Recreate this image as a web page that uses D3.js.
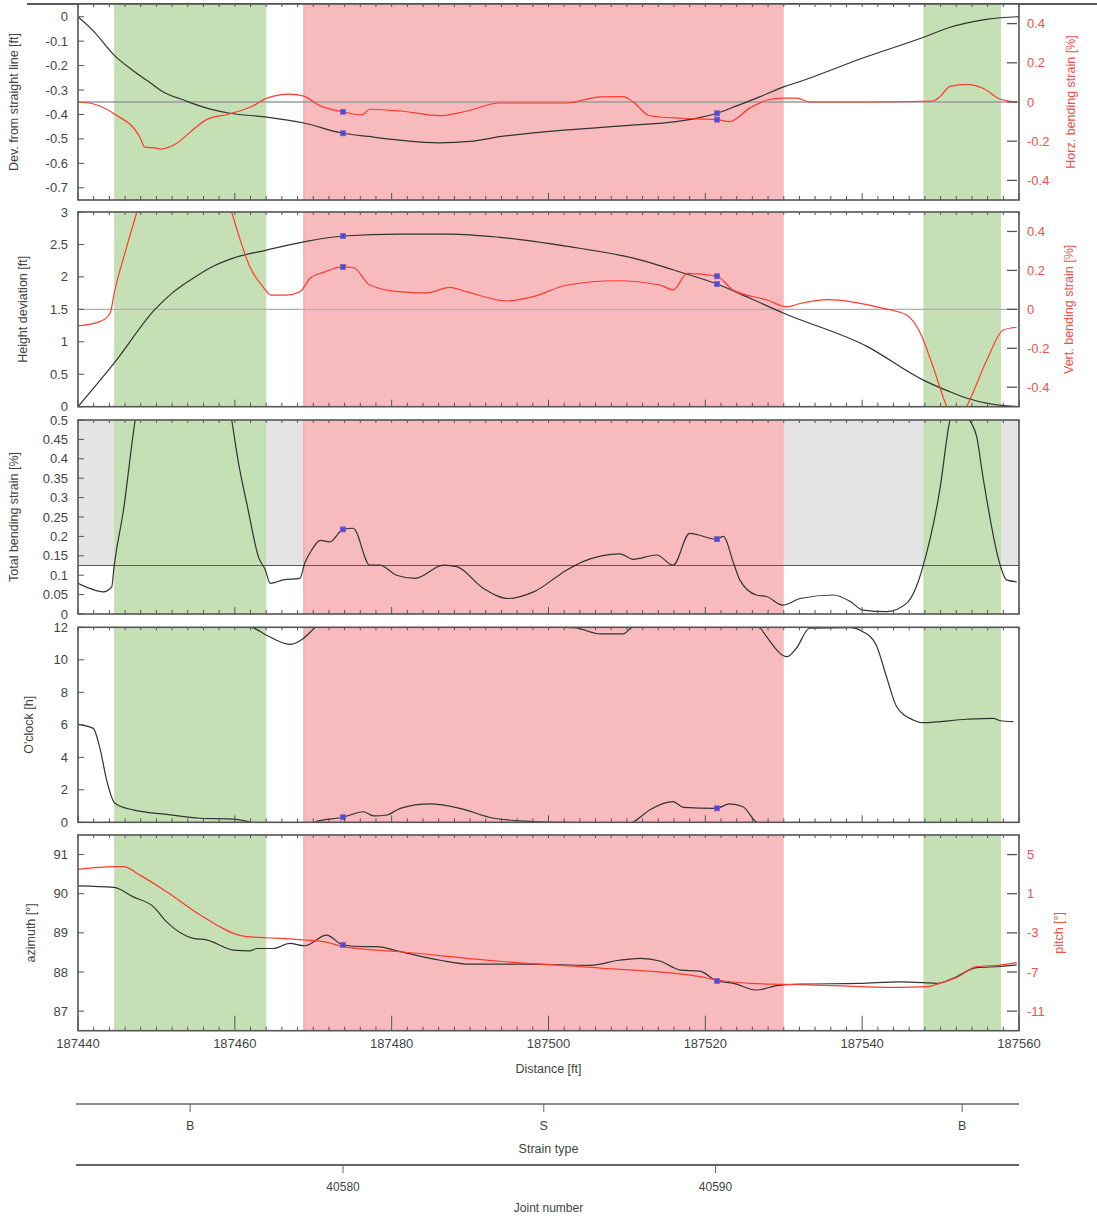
<!DOCTYPE html>
<html><head><meta charset="utf-8">
<script src="https://cdn.jsdelivr.net/npm/d3@7"></script>
<style>
body{margin:0;background:#fff}
svg{display:block}
text{font-family:"Liberation Sans",Arial,sans-serif}
</style>
</head><body>
<svg id="c" width="1097" height="1218"></svg>
<script>
// ---------------- DATA ----------------
// distances are given as offsets [ft] from 187440
const distStart = 187440, distEnd = 187560;
const distTicks = [187440,187460,187480,187500,187520,187540,187560];
const greenBands = [[4.6,24.0],[107.8,117.7]];
const pinkBands = [[28.8,90.0]];

// Panel 1: deviation from straight line [ft] (left) and horizontal bending strain [%] (right)
const devStraight = [[0,0],[2,-0.06],[4.6,-0.157],[7,-0.22],[9.2,-0.27],[11,-0.31],[13.4,-0.34],[16,-0.37],[19.4,-0.395],[23.8,-0.41],[28.8,-0.435],[33.8,-0.477],[37,-0.49],[41,-0.505],[46,-0.516],[50,-0.51],[54,-0.49],[62,-0.464],[71,-0.443],[76,-0.43],[79,-0.415],[81.5,-0.395],[84,-0.365],[87,-0.327],[90,-0.287],[92,-0.266],[100,-0.17],[108,-0.082],[111,-0.045],[113.4,-0.025],[116,-0.01],[120,0.0]];
const horzStrain = [[0,0],[2,-0.01],[4.6,-0.06],[7.9,-0.18],[8.5,-0.23],[10,-0.235],[10.5,-0.24],[12.6,-0.21],[14.7,-0.14],[16.4,-0.09],[19.4,-0.06],[22.3,-0.02],[24.1,0.02],[27,0.04],[28.8,0.03],[30.9,-0.02],[33.8,-0.05],[36.2,-0.066],[37.2,-0.037],[41.1,-0.046],[46.2,-0.07],[49.6,-0.046],[53.8,-0.005],[62.4,-0.005],[66.6,0.026],[69.5,0.027],[70.8,0],[72.9,-0.07],[77.1,-0.083],[81.5,-0.09],[83.1,-0.1],[85.7,-0.03],[87.9,0.01],[89.9,0.02],[91.7,0.02],[93.3,0],[101,0],[109,0.005],[110,0.03],[111.2,0.08],[113.4,0.09],[115.4,0.07],[117.6,0.014],[119.7,0]];
const devMarkers = [-0.477,-0.395];
const horzMarkers = [-0.05,-0.09];

// Panel 2: height deviation [ft] (left) and vertical bending strain [%] (right)
const heightDev = [[0,0],[4.6,0.67],[9.9,1.51],[12,1.75],[14.3,1.95],[17,2.15],[19.8,2.29],[23.9,2.41],[28.8,2.54],[33.8,2.63],[41.1,2.66],[47.5,2.66],[53.8,2.61],[62.4,2.47],[70.8,2.29],[77.2,2.06],[81.5,1.89],[85.7,1.67],[90,1.44],[100.6,0.93],[107.8,0.41],[111,0.24],[113.4,0.13],[116,0.05],[119.7,0]];
const vertStrain = [[0,-0.085],[2.8,-0.063],[4.1,-0.02],[4.6,0.08],[6.2,0.32],[7.5,0.5],[8.5,0.65],[18.5,0.65],[19.6,0.5],[20.7,0.355],[21.9,0.22],[23.6,0.116],[24.6,0.073],[26.6,0.073],[28.3,0.09],[29.6,0.16],[31.3,0.19],[33.8,0.218],[35.1,0.215],[37.2,0.125],[41.1,0.09],[44.5,0.085],[47.4,0.113],[49.6,0.09],[54.7,0.043],[58,0.065],[62.4,0.125],[68.7,0.147],[74.2,0.125],[75.9,0.1],[77.7,0.185],[81.5,0.17],[83.5,0.1],[87.9,0.048],[90.4,0.013],[92.1,0.03],[95.5,0.05],[102.7,0.005],[105.7,-0.03],[107.4,-0.12],[109,-0.29],[110.8,-0.5],[112,-0.58],[113.3,-0.5],[115.9,-0.26],[118,-0.106],[119.7,-0.092]];
const heightMarkers = [2.63,1.89];
const vertMarkers = [0.218,0.17];

// Panel 3: total bending strain [%]
const strainThreshold = 0.125;
const totalStrain = [[0,0.079],[1.5,0.066],[3.2,0.057],[4.3,0.07],[4.6,0.122],[5.8,0.268],[7.3,0.5],[8.5,0.62],[18.5,0.62],[19.6,0.5],[20.4,0.397],[21.7,0.268],[23,0.148],[23.9,0.113],[24.5,0.079],[26.2,0.088],[28.3,0.092],[28.9,0.13],[29.8,0.165],[30.9,0.19],[32.1,0.186],[33.8,0.218],[35.1,0.221],[37.2,0.126],[38.5,0.126],[40.6,0.1],[43,0.092],[46.6,0.126],[48.3,0.122],[51.7,0.066],[54.9,0.04],[58.1,0.057],[62.3,0.113],[64.4,0.135],[69.1,0.155],[70.8,0.141],[73.8,0.152],[75.9,0.126],[78,0.208],[81.4,0.193],[82.3,0.2],[83.6,0.131],[84.4,0.088],[86.5,0.049],[87.8,0.045],[89.9,0.023],[92.1,0.04],[96.3,0.049],[98.5,0.032],[100.1,0.01],[103.1,0.006],[105.7,0.028],[106.9,0.07],[107.8,0.126],[109.9,0.32],[111.2,0.5],[112.4,0.55],[113.7,0.5],[114.6,0.457],[115.4,0.354],[117.6,0.126],[118.4,0.088],[119.7,0.083]];
const totalMarkers = [0.218,0.193];

// Panel 4: o'clock position [h] (0..12, wraps around)
const oclock = [[0,6.03],[1.95,5.78],[2.8,4.55],[3.7,2.5],[4.7,1.17],[7.05,0.76],[11.3,0.49],[15.6,0.25],[19.8,0.2],[21.9,0.02],[22.4,11.95],[24.1,11.5],[27,10.95],[28.7,11.3],[30.2,11.97],[30.4,0.05],[33.8,0.31],[36.4,0.65],[37.7,0.39],[39.4,0.45],[41.1,0.86],[44.9,1.13],[48.7,0.86],[53,0.25],[58.1,0.04],[60.6,0.0],[63.2,11.98],[66.6,11.59],[69.5,11.59],[70.6,11.98],[70.8,0.02],[72.9,0.76],[75.9,1.27],[77.2,0.92],[81.4,0.86],[83.1,1.13],[84.8,0.96],[86.5,0.02],[87,11.94],[87.8,11.42],[90.4,10.19],[91.6,10.71],[93.3,11.94],[98.4,11.98],[100.1,11.73],[101.8,10.9],[103.1,8.96],[104.4,7.11],[106.5,6.3],[107.8,6.13],[113.3,6.34],[116.7,6.4],[117.6,6.25],[119.3,6.19]];
const oclockMarkers = [0.31,0.86];

// Panel 5: azimuth [deg] (left) and pitch [deg] (right)
const azimuth = [[0,90.2],[4.6,90.16],[7.05,89.92],[9.6,89.67],[11.3,89.28],[14.7,88.86],[16.4,88.82],[19.8,88.56],[21.9,88.54],[22.8,88.6],[24.9,88.6],[27,88.73],[28.9,88.67],[31.7,88.94],[33.8,88.69],[36.4,88.65],[38.1,88.65],[41.1,88.52],[46.2,88.3],[50,88.2],[57.6,88.2],[65.3,88.17],[69,88.3],[71.7,88.35],[74.2,88.28],[76.8,88.05],[79.3,88.02],[81.5,87.77],[83.6,87.71],[86.5,87.54],[89.1,87.65],[92.1,87.69],[99.7,87.71],[104.8,87.75],[107.8,87.73],[109.5,87.71],[111.6,87.84],[114.6,88.11],[117.6,88.14],[119.7,88.18]];
const pitch = [[0,3.49],[4.6,3.76],[5.8,3.76],[7.9,2.9],[11.3,1.2],[15.6,-1.18],[17.7,-2.2],[19.8,-3.05],[21.5,-3.39],[24.1,-3.5],[28.9,-3.73],[31.3,-3.9],[33.8,-4.4],[41.1,-4.93],[53.8,-5.9],[66.6,-6.6],[79.3,-7.48],[81.5,-7.82],[85.7,-8.16],[90.1,-8.26],[96.3,-8.4],[104.8,-8.57],[108.2,-8.5],[109.9,-8.16],[112,-7.58],[114.6,-6.46],[117.6,-6.29],[119.7,-6.05]];
const azimuthMarkers = [88.69,87.77];
const markerDist = [33.8,81.5];

// bottom axes
const strainTypeLabels = ["B","S","B"];
const strainTypePos = [187454.3,187499.4,187552.75];
const jointNumbers = [40580,40590];
const jointPos = [187473.8,187521.3];

// ---------------- DRAWING ----------------
const svg = d3.select("#c");
const L = 78, R = 1019;
const x = d3.scaleLinear().domain([distStart,distEnd]).range([L,R]);
const xo = d => x(distStart + d);
const GREEN = "#c6e0b5", PINK = "#f7bbbe", GREY = "#e4e4e4";
const BLACK = "#333", RED = "#ff3a2e", BORDER = "#555", TXT = "#444", RTXT = "#f2504a";

svg.append("line").attr("x1",27).attr("x2",1097).attr("y1",4).attr("y2",4)
  .attr("stroke","#222").attr("stroke-width",1.5);

function makePanel(id, top, bot){
  const g = svg.append("g");
  g.append("rect").attr("x",L).attr("y",top).attr("width",R-L).attr("height",bot-top).attr("fill","#fff");
  svg.append("clipPath").attr("id","clip"+id).append("rect")
    .attr("x",L).attr("y",top).attr("width",R-L).attr("height",bot-top);
  return g;
}
function bands(g, top, bot){
  greenBands.forEach(b=>g.append("rect").attr("x",xo(b[0])).attr("y",top)
    .attr("width",xo(b[1])-xo(b[0])).attr("height",bot-top).attr("fill",GREEN));
  pinkBands.forEach(b=>{
    g.append("rect").attr("x",xo(b[0])).attr("y",top)
      .attr("width",xo(b[1])-xo(b[0])).attr("height",bot-top).attr("fill",PINK);
    g.append("line").attr("x1",xo(b[0])).attr("x2",xo(b[0])).attr("y1",top).attr("y2",bot)
      .attr("stroke","#ee9a9c").attr("stroke-width",1);
  });
}
function series(g, id, data, y, color, w){
  const line = d3.line().x(d=>xo(d[0])).y(d=>y(d[1])).curve(d3.curveMonotoneX);
  g.append("path").attr("d",line(data)).attr("fill","none").attr("stroke",color)
    .attr("stroke-width",w||1.2).attr("clip-path","url(#clip"+id+")");
}
function markers(g, vals, y){
  vals.forEach((v,i)=>g.append("rect").attr("x",xo(markerDist[i])-2.5).attr("y",y(v)-2.5)
    .attr("width",5).attr("height",5).attr("fill","#4b4bd6").attr("stroke","#8060c8").attr("stroke-width",0.8));
}
function frame(g, top, bot, majorLen){
  for(let d=distStart; d<=distEnd; d+=2){
    const major = (d-distStart)%20===0;
    const xx = x(d);
    g.append("line").attr("x1",xx).attr("x2",xx).attr("y1",bot).attr("y2",bot-(major?majorLen:4))
      .attr("stroke",BORDER).attr("stroke-width",1);
    g.append("line").attr("x1",xx).attr("x2",xx).attr("y1",top).attr("y2",top+3)
      .attr("stroke",BORDER).attr("stroke-width",1);
  }
  g.append("rect").attr("x",L).attr("y",top).attr("width",R-L).attr("height",bot-top)
    .attr("fill","none").attr("stroke",BORDER).attr("stroke-width",1.6);
}
function leftAxis(g, y, ticks, fmt, title, titleX, top, bot){
  ticks.forEach(t=>{
    g.append("line").attr("x1",L).attr("x2",L+6).attr("y1",y(t)).attr("y2",y(t)).attr("stroke",BORDER);
    g.append("text").attr("x",L-10).attr("y",y(t)).attr("dy","0.35em").attr("text-anchor","end")
      .attr("font-size",13).attr("fill",TXT).text(fmt(t));
  });
  g.append("text").attr("transform",`translate(${titleX},${(top+bot)/2}) rotate(-90)`)
    .attr("text-anchor","middle").attr("font-size",12.5).attr("fill",TXT).text(title);
}
function rightAxis(g, y, ticks, fmt, title, titleX, top, bot){
  ticks.forEach(t=>{
    g.append("line").attr("x1",R-12).attr("x2",R-2).attr("y1",y(t)).attr("y2",y(t)).attr("stroke",BORDER).attr("stroke-width",1.3);
    g.append("text").attr("x",R+8).attr("y",y(t)).attr("dy","0.35em").attr("text-anchor","start")
      .attr("font-size",13).attr("fill",RTXT).text(fmt(t));
  });
  g.append("text").attr("transform",`translate(${titleX},${(top+bot)/2}) rotate(-90)`)
    .attr("text-anchor","middle").attr("font-size",12.5).attr("fill",RTXT).text(title);
}
const fmtG = t => String(+t.toFixed(2));

// ---- Panel 1
{
  const top=4, bot=200;
  const g = makePanel(1,top,bot);
  const yl = d3.scaleLinear().domain([-0.75,0.052]).range([bot,top]);
  const yr = d3.scaleLinear().domain([-0.5,0.5]).range([bot,top]);
  bands(g,top,bot);
  g.append("line").attr("x1",L).attr("x2",R).attr("y1",yr(0)).attr("y2",yr(0)).attr("stroke","#9a9a9a").attr("stroke-width",1.5);
  series(g,1,devStraight,yl,BLACK);
  series(g,1,horzStrain,yr,RED);
  markers(g,devMarkers,yl); markers(g,horzMarkers,yr);
  frame(g,top,bot,7);
  leftAxis(g,yl,[0,-0.1,-0.2,-0.3,-0.4,-0.5,-0.6,-0.7],fmtG,"Dev. from straight line [ft]",18,top,bot);
  rightAxis(g,yr,[0.4,0.2,0,-0.2,-0.4],fmtG,"Horz. bending strain [%]",1075,top,bot);
}
// ---- Panel 2
{
  const top=212, bot=406.7;
  const g = makePanel(2,top,bot);
  const yl = d3.scaleLinear().domain([0,3]).range([bot,top]);
  const yr = d3.scaleLinear().domain([-0.5,0.5]).range([bot,top]);
  bands(g,top,bot);
  g.append("line").attr("x1",L).attr("x2",R).attr("y1",yr(0)).attr("y2",yr(0)).attr("stroke","#b0b0b0").attr("stroke-width",1.2);
  series(g,2,heightDev,yl,BLACK);
  series(g,2,vertStrain,yr,RED);
  markers(g,heightMarkers,yl); markers(g,vertMarkers,yr);
  frame(g,top,bot,7);
  leftAxis(g,yl,[0,0.5,1,1.5,2,2.5,3],fmtG,"Height deviation [ft]",27,top,bot);
  rightAxis(g,yr,[0.4,0.2,0,-0.2,-0.4],fmtG,"Vert. bending strain [%]",1073,top,bot);
}
// ---- Panel 3
{
  const top=420, bot=614;
  const g = makePanel(3,top,bot);
  const y = d3.scaleLinear().domain([0,0.5]).range([bot,top]);
  g.append("rect").attr("x",L).attr("y",top).attr("width",R-L).attr("height",y(strainThreshold)-top).attr("fill",GREY);
  bands(g,top,bot);
  g.append("line").attr("x1",L).attr("x2",R).attr("y1",y(strainThreshold)).attr("y2",y(strainThreshold)).attr("stroke","#5a5a5a").attr("stroke-width",1.2);
  series(g,3,totalStrain,y,BLACK);
  markers(g,totalMarkers,y);
  frame(g,top,bot,7);
  leftAxis(g,y,d3.range(0,0.5001,0.05),fmtG,"Total bending strain [%]",18,top,bot);
}
// ---- Panel 4
{
  const top=627.3, bot=822.3;
  const g = makePanel(4,top,bot);
  const y = d3.scaleLinear().domain([0,12]).range([bot,top]);
  bands(g,top,bot);
  // unwrap the 12-hour values so the trace stays continuous, then draw it with 12 h shifts
  const unwrapped = []; let off = 0;
  oclock.forEach((p,i)=>{ if(i>0){ const dv=p[1]-oclock[i-1][1]; if(dv>6) off-=12; else if(dv<-6) off+=12; } unwrapped.push([p[0],p[1]+off]); });
  [-12,0,12,24].forEach(k=>series(g,4,unwrapped.map(p=>[p[0],p[1]+k]),y,BLACK));
  markers(g,oclockMarkers,y);
  frame(g,top,bot,7);
  leftAxis(g,y,[0,2,4,6,8,10,12],fmtG,"O'clock [h]",33,top,bot);
}
// ---- Panel 5
{
  const top=835, bot=1030.7;
  const g = makePanel(5,top,bot);
  const yl = d3.scaleLinear().domain([86.5,91.5]).range([bot,top]);
  const yr = d3.scaleLinear().domain([-13,7]).range([bot,top]);
  bands(g,top,bot);
  series(g,5,azimuth,yl,BLACK);
  series(g,5,pitch,yr,RED);
  markers(g,azimuthMarkers,yl);
  frame(g,top,bot,15);
  leftAxis(g,yl,[87,88,89,90,91],fmtG,"azimuth [°]",35,top,bot);
  rightAxis(g,yr,[5,1,-3,-7,-11],fmtG,"pitch [°]",1063,top,bot);
  distTicks.forEach(t=>svg.append("text").attr("x",x(t)).attr("y",1048).attr("text-anchor","middle")
    .attr("font-size",13).attr("fill",TXT).text(t));
  svg.append("text").attr("x",(L+R)/2).attr("y",1073).attr("text-anchor","middle")
    .attr("font-size",12.5).attr("fill",TXT).text("Distance [ft]");
}
// ---- Strain type axis
{
  const yA = 1104;
  svg.append("line").attr("x1",L-2).attr("x2",R).attr("y1",yA).attr("y2",yA).attr("stroke","#666").attr("stroke-width",1.3);
  strainTypePos.forEach((p,i)=>{
    svg.append("line").attr("x1",x(p)).attr("x2",x(p)).attr("y1",yA).attr("y2",yA+8).attr("stroke","#666");
    svg.append("text").attr("x",x(p)).attr("y",yA+26).attr("text-anchor","middle").attr("font-size",12.5).attr("fill",TXT).text(strainTypeLabels[i]);
  });
  svg.append("text").attr("x",(L+R)/2).attr("y",1153).attr("text-anchor","middle").attr("font-size",12.5).attr("fill",TXT).text("Strain type");
}
// ---- Joint number axis
{
  const yA = 1165;
  svg.append("line").attr("x1",L-2).attr("x2",R).attr("y1",yA).attr("y2",yA).attr("stroke","#666").attr("stroke-width",2);
  jointPos.forEach((p,i)=>{
    svg.append("line").attr("x1",x(p)).attr("x2",x(p)).attr("y1",yA).attr("y2",yA+8).attr("stroke","#666");
    svg.append("text").attr("x",x(p)).attr("y",yA+26).attr("text-anchor","middle").attr("font-size",12).attr("fill",TXT).text(jointNumbers[i]);
  });
  svg.append("text").attr("x",(L+R)/2).attr("y",1212).attr("text-anchor","middle").attr("font-size",12).attr("fill",TXT).text("Joint number");
}
</script>
</body></html>
